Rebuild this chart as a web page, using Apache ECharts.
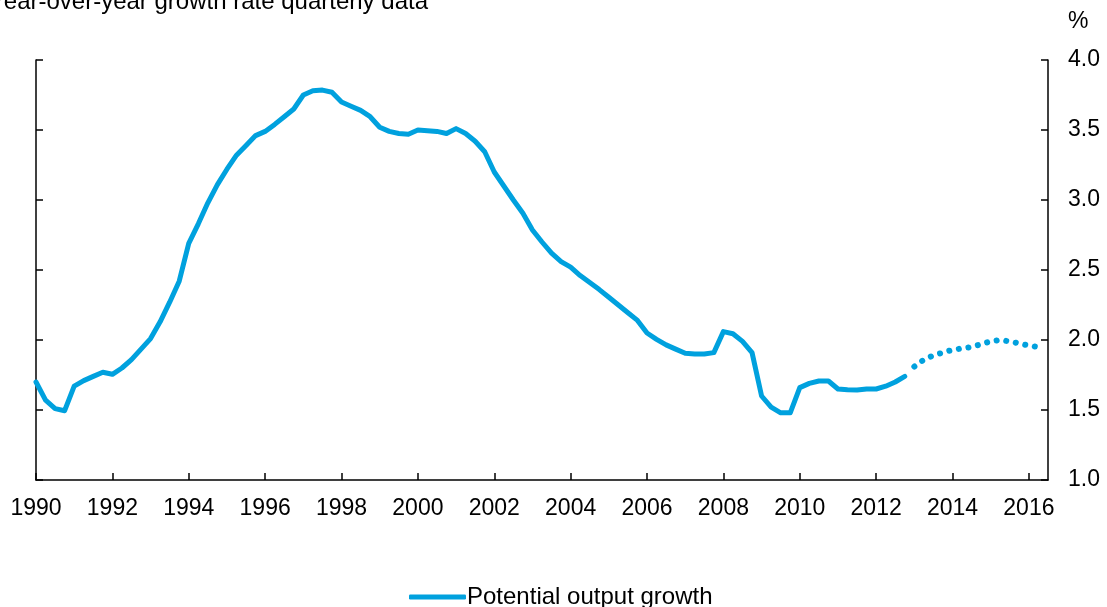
<!DOCTYPE html>
<html>
<head>
<meta charset="utf-8">
<script src="https://cdn.jsdelivr.net/npm/echarts@6/dist/echarts.min.js"></script>
<style>
  html, body { margin: 0; padding: 0; background: #fff; }
  #chart { width: 1107px; height: 607px; }
</style>
</head>
<body>
<div id="chart"></div>
<script>
// quarterly data, first point is 1990 Q1
const startYear = 1990;
const seriesName = "Potential output growth";
const titleText = "Year-over-year growth rate quarterly data";

// actual estimates, 1990Q1 .. 2012Q4
const actualValues = [
    1.70, 1.57, 1.51, 1.495, 1.67, 1.71, 1.74, 1.77,
    1.755, 1.80, 1.86, 1.935, 2.01, 2.13, 2.27, 2.42,
    2.69, 2.83, 2.98, 3.11, 3.22, 3.32, 3.39, 3.46,
    3.49, 3.54, 3.595, 3.65, 3.75, 3.78, 3.785, 3.77,
    3.70, 3.67, 3.64, 3.595, 3.52, 3.49, 3.475, 3.47,
    3.50, 3.495, 3.49, 3.475, 3.51, 3.475, 3.42, 3.345,
    3.20, 3.10, 3.00, 2.905, 2.786, 2.70, 2.62, 2.56,
    2.52, 2.46, 2.41, 2.36, 2.305, 2.25, 2.195, 2.14,
    2.05, 2.005, 1.965, 1.935, 1.905, 1.90, 1.90, 1.91,
    2.06, 2.045, 1.99, 1.91, 1.60, 1.52, 1.48, 1.48,
    1.66, 1.69, 1.707, 1.707, 1.65, 1.645, 1.643, 1.65,
    1.65, 1.67, 1.70, 1.74
];

// projection, 2013Q1 .. 2016Q2
const projectionValues = [
    1.81, 1.86, 1.89, 1.91, 1.93, 1.94, 1.95, 1.97,
    1.99, 2.00, 1.99, 1.975, 1.96, 1.95
];

const xMin = 1990;
const xMax = 2016.5;
const yMin = 1.0;
const yMax = 4.0;

const blue = "#00a1de";
const font = "Liberation Sans, Arial, sans-serif";

function toPoints(values, offset) {
    return values.map((v, i) => [startYear + (offset + i) / 4, v]);
}

function axisLine() {
    return { show: true, lineStyle: { color: "#000", width: 1.5 } };
}

function axisTick() {
    return { show: true, inside: true, length: 7, lineStyle: { color: "#000", width: 1.5 } };
}

function buildOption() {
    return {
        animation: false,
        backgroundColor: "#fff",
        grid: { left: 36, right: 59, top: 60, bottom: 127 },
        graphic: [
            {
                type: "text", left: -10, top: -10,
                style: { text: titleText, font: "24px " + font, fill: "#000" }
            },
            {
                type: "text", left: 1068, top: 10,
                style: { text: "%", font: "23px " + font, fill: "#000" }
            }
        ],
        legend: {
            left: 404, top: 580,
            itemWidth: 57, itemHeight: 5, itemGap: 10,
            icon: "roundRect",
            data: [{ name: seriesName, itemStyle: { color: blue } }],
            textStyle: { fontSize: 24, fontFamily: font, color: "#000", padding: [0, 0, 0, -4] }
        },
        xAxis: {
            type: "value", min: xMin, max: xMax, interval: 2,
            axisLine: axisLine(), axisTick: axisTick(),
            splitLine: { show: false },
            axisLabel: {
                fontSize: 23, fontFamily: font, color: "#000", margin: 17,
                showMaxLabel: false,
                formatter: (v) => (v % 1 === 0 ? String(v) : "")
            }
        },
        yAxis: [
            {
                type: "value", position: "left", min: yMin, max: yMax, interval: 0.5,
                axisLine: axisLine(), axisTick: axisTick(),
                splitLine: { show: false },
                axisLabel: { show: false }
            },
            {
                type: "value", position: "right", min: yMin, max: yMax, interval: 0.5,
                axisLine: axisLine(), axisTick: axisTick(),
                splitLine: { show: false },
                axisLabel: {
                    fontSize: 23, fontFamily: font, color: "#000", margin: 20,
                    formatter: (v) => v.toFixed(1)
                }
            }
        ],
        series: [
            {
                name: seriesName, type: "line", yAxisIndex: 0,
                data: toPoints(actualValues, 0),
                showSymbol: false, symbol: "none",
                lineStyle: { color: blue, width: 5, join: "round", cap: "round" },
                itemStyle: { color: blue }
            },
            {
                name: seriesName, type: "line", yAxisIndex: 0,
                data: toPoints(projectionValues, actualValues.length),
                showSymbol: false, symbol: "none",
                lineStyle: { color: blue, width: 6, type: [0.1, 9.6], cap: "round" },
                itemStyle: { color: blue }
            }
        ]
    };
}

function render() {
    const chart = echarts.init(document.getElementById("chart"));
    chart.setOption(buildOption());
}

window.addEventListener("load", render);
</script>
</body>
</html>
